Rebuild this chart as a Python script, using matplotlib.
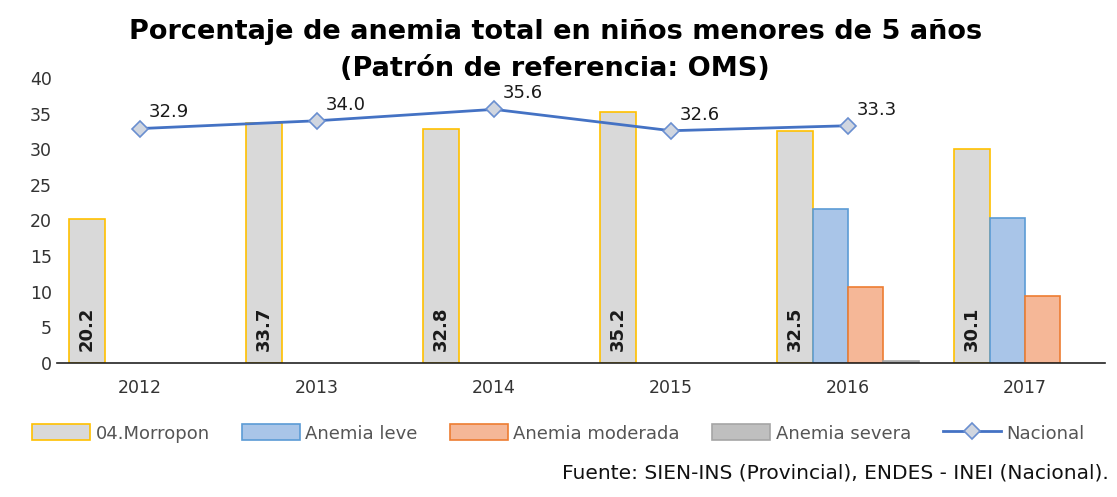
import matplotlib.pyplot as plt
import numpy as np

years = ["2012", "2013", "2014", "2015", "2016", "2017"]
morropon = [20.2, 33.7, 32.8, 35.2, 32.5, 30.1]
leve = [np.nan, np.nan, np.nan, np.nan, 21.6, 20.3]
moderada = [np.nan, np.nan, np.nan, np.nan, 10.7, 9.4]
severa = [np.nan, np.nan, np.nan, np.nan, 0.3, np.nan]
nacional = [32.9, 34.0, 35.6, 32.6, 33.3]

fig = plt.figure(figsize=(11.17, 4.97), dpi=100)
ax = fig.add_axes([0.051, 0.270, 0.938, 0.573])

x = np.arange(len(years))
w = 0.2

ax.bar(x - 1.5 * w, morropon, w, color="#D9D9D9", edgecolor="#FFC000", linewidth=1.2, label="04.Morropon")
ax.bar(x - 0.5 * w, leve, w, color="#A9C5E8", edgecolor="#5B9BD5", linewidth=1.2, label="Anemia leve")
ax.bar(x + 0.5 * w, moderada, w, color="#F5B797", edgecolor="#ED7D31", linewidth=1.2, label="Anemia moderada")
ax.bar(x + 1.5 * w, severa, w, color="#BFBFBF", edgecolor="#A5A5A5", linewidth=1.2, label="Anemia severa")

xn = x[:len(nacional)]
ax.plot(xn, nacional, color="#4472C4", linewidth=2, marker="D", markersize=8,
        markerfacecolor="#D0D6E0", markeredgecolor="#6A8FD0", markeredgewidth=1.2, label="Nacional")

for xi, v in zip(x, morropon):
    ax.text(xi - 1.5 * w, 1.6, f"{v:.1f}", rotation=90, ha="center", va="bottom",
            fontsize=13, fontweight="bold", color="#1a1a1a")
for xi, v in zip(xn, nacional):
    ax.text(xi + 0.05, v + 1.0, f"{v:.1f}", ha="left", va="bottom", fontsize=13, color="#1a1a1a")

ax.set_xlim(-0.47, 5.45)
ax.set_ylim(0, 40)
ax.set_yticks(range(0, 41, 5))
ax.set_xticks(x)
ax.set_xticklabels(years)
ax.tick_params(axis="both", length=0, labelsize=12.5, colors="#333333")
ax.tick_params(axis="x", pad=12)
for s in ["top", "right", "left"]:
    ax.spines[s].set_visible(False)
ax.spines["bottom"].set_color("#222222")
ax.spines["bottom"].set_linewidth(1.2)

fig.text(0.497, 0.935, "Porcentaje de anemia total en niños menores de 5 años",
         ha="center", va="center", fontsize=19.5, fontweight="heavy")
fig.text(0.497, 0.862, "(Patrón de referencia: OMS)",
         ha="center", va="center", fontsize=19.5, fontweight="heavy")

handles, labels = ax.get_legend_handles_labels()
order = [1, 2, 3, 4, 0]
leg = fig.legend([handles[i] for i in order], [labels[i] for i in order],
                 loc="center", bbox_to_anchor=(0.5, 0.128), ncol=5, frameon=False,
                 fontsize=13, handlelength=3.2, handleheight=1.0, columnspacing=1.8, handletextpad=0.3)
for t in leg.get_texts():
    t.set_color("#555555")

fig.text(0.993, 0.048, "Fuente: SIEN-INS (Provincial), ENDES - INEI (Nacional).",
         ha="right", va="center", fontsize=14.5, color="#111111")

fig.savefig("out.png", dpi=100)
